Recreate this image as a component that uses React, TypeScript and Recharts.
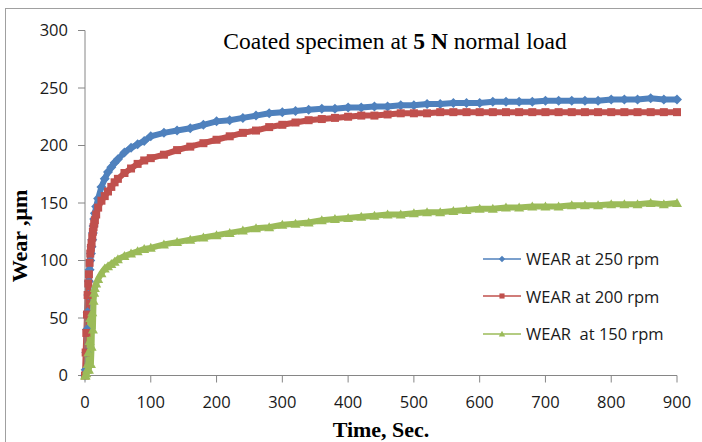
import { Line, LineChart, XAxis, YAxis } from "recharts";

// time in seconds, shared by all three runs
const time = [
  0, 1, 2, 3, 4, 5, 6, 7, 8, 9, 10, 11, 12, 13, 14, 15,
  17, 20, 25, 30, 35, 40, 45, 50,
  60, 70, 80, 90, 100,
  120, 140, 160, 180, 200, 220, 240, 260, 280, 300,
  320, 340, 360, 380, 400, 420, 440, 460, 480, 500,
  520, 540, 560, 580, 600, 620, 640, 660, 680, 700,
  720, 740, 760, 780, 800, 820, 840, 860, 880, 900,
];

const wear250 = [
  0, 5, 20, 40, 55, 70, 82, 92, 100, 106, 112, 118, 124, 130, 136, 141,
  147, 154, 164, 171, 177, 181, 185, 188,
  194, 198, 201, 204, 208,
  211, 213, 215, 218, 221, 222, 224, 226, 228, 229,
  230, 231, 232, 232, 233, 233, 234, 234, 235, 235,
  236, 236, 237, 237, 237, 238, 238, 238, 238, 239,
  239, 239, 239, 239, 240, 240, 240, 241, 240, 240,
];

const wear200 = [
  0, 20, 37, 53, 70, 80, 88, 98, 106, 111, 115, 120, 125, 129, 132, 135,
  140, 146, 152, 156, 160, 164, 168, 171,
  176, 180, 184, 187, 189,
  192, 196, 199, 202, 205, 208, 211, 213, 216, 218,
  220, 222, 223, 224, 225, 226, 226, 227, 228, 228,
  228, 229, 229, 229, 229, 229, 229, 229, 229, 229,
  229, 229, 229, 229, 229, 229, 229, 229, 229, 229,
];

const wear150 = [
  0, 0, 2, 5, 10, 20, 5, 30, 50, 10, 25, 55, 40, 65, 72, 76,
  80, 84, 89, 93, 95, 97, 99, 101,
  104, 106, 108, 110, 111,
  114, 116, 118, 120, 122, 124, 126, 128, 129, 131,
  132, 133, 135, 136, 137, 138, 139, 140, 140, 141,
  142, 142, 143, 144, 145, 145, 146, 146, 147, 147,
  147, 148, 148, 148, 149, 149, 149, 150, 149, 150,
];

const xTicks = [0, 100, 200, 300, 400, 500, 600, 700, 800, 900];
const yTicks = [0, 50, 100, 150, 200, 250, 300];

const BLUE = "#4F81BD";
const RED = "#C0504D";
const GREEN = "#9BBB59";
const AXIS = "#868686";

const data = time.map((t, i) => ({
  t,
  w250: wear250[i],
  w200: wear200[i],
  w150: wear150[i],
}));

const series = [
  { key: "w250", name: "WEAR at 250 rpm", color: BLUE, shape: "diamond" },
  { key: "w200", name: "WEAR at 200 rpm", color: RED, shape: "square" },
  { key: "w150", name: "WEAR  at 150 rpm", color: GREEN, shape: "triangle" },
];

const markerPath = (shape: string, cx: number, cy: number, s: number) => {
  if (shape === "diamond")
    return `M${cx},${cy - s}L${cx + s},${cy}L${cx},${cy + s}L${cx - s},${cy}Z`;
  if (shape === "square")
    return `M${cx - s * 0.8},${cy - s * 0.8}h${s * 1.6}v${s * 1.6}h${-s * 1.6}Z`;
  return `M${cx},${cy - s}L${cx + s},${cy + s * 0.8}L${cx - s},${cy + s * 0.8}Z`;
};

const makeDot = (shape: string, color: string) => (props: any) => {
  const { cx, cy, index } = props;
  if (cx == null || cy == null) return <g key={index} />;
  return <path key={index} d={markerPath(shape, cx, cy, 5)} fill={color} />;
};

const fontSans = "'Open Sans', sans-serif";
const fontSerif = "'Liberation Serif', 'Times New Roman', serif";

export default function App() {
  return (
    <div
      style={{
        position: "absolute",
        left: 0,
        top: 0,
        width: 702,
        height: 442,
        overflow: "hidden",
        background: "#fff",
      }}
    >
      <div
        style={{
          position: "absolute",
          left: 5,
          top: 8,
          width: 720,
          height: 460,
          border: "1.5px solid #a0a0a0",
        }}
      />
      <LineChart
        width={702}
        height={442}
        data={data}
        margin={{ top: 30.5, right: 25, bottom: 0, left: 0 }}
      >
        <XAxis
          dataKey="t"
          type="number"
          domain={[0, 900]}
          ticks={xTicks}
          height={66.5}
          stroke={AXIS}
          tickSize={7}
          tickMargin={14}
          tick={{ fill: "#1a1a1a", fontSize: 16.5, fontFamily: fontSans }}
        />
        <YAxis
          type="number"
          domain={[0, 300]}
          ticks={yTicks}
          width={85}
          stroke={AXIS}
          tickSize={7}
          tickMargin={10}
          tick={{ fill: "#1a1a1a", fontSize: 16.5, fontFamily: fontSans }}
        />
        {series.map((s) => (
          <Line
            key={s.key}
            type="linear"
            dataKey={s.key}
            name={s.name}
            stroke={s.color}
            strokeWidth={6}
            dot={makeDot(s.shape, s.color)}
            activeDot={false}
            isAnimationActive={false}
          />
        ))}
      </LineChart>
      <div
        style={{
          position: "absolute",
          left: 483,
          top: 240,
          fontFamily: fontSans,
          fontSize: 16.5,
          color: "#1a1a1a",
        }}
      >
        {series.map((s) => (
          <div
            key={s.key}
            style={{
              display: "flex",
              alignItems: "center",
              height: 37.5,
              whiteSpace: "pre",
            }}
          >
            <svg width={38} height={12} style={{ marginRight: 5 }}>
              <line x1={0} y1={6} x2={38} y2={6} stroke={s.color} strokeWidth={1.5} />
              <path d={markerPath(s.shape, 19, 6, 3.2)} fill={s.color} />
            </svg>
            <span>{s.name}</span>
          </div>
        ))}
      </div>
      <svg
        width={702}
        height={442}
        style={{ position: "absolute", left: 0, top: 0, pointerEvents: "none" }}
      >
        <text
          x={395}
          y={49}
          textAnchor="middle"
          fontFamily={fontSerif}
          fontSize={23.5}
          fill="#000"
        >
          Coated specimen at <tspan fontWeight="bold">5 N</tspan> normal load
        </text>
        <text
          transform="translate(27,236) rotate(-90)"
          textAnchor="middle"
          fontFamily={fontSerif}
          fontSize={22}
          fontWeight="bold"
          fill="#000"
        >
          Wear ,μm
        </text>
        <text
          x={381}
          y={436.5}
          textAnchor="middle"
          fontFamily={fontSerif}
          fontSize={22}
          fontWeight="bold"
          fill="#000"
        >
          Time, Sec.
        </text>
      </svg>
    </div>
  );
}
